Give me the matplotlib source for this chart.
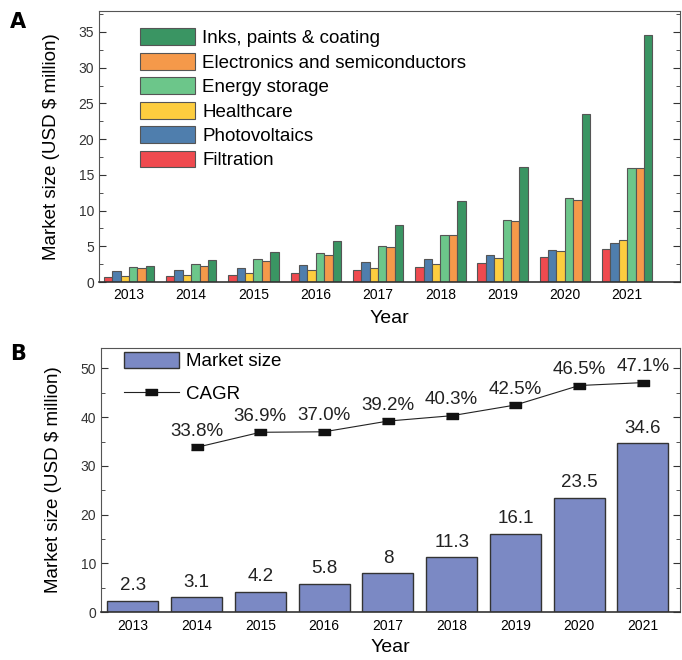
import numpy as np
import matplotlib
matplotlib.use("Agg")
import matplotlib.pyplot as plt
from matplotlib.ticker import MultipleLocator

plt.rcParams['font.family'] = ['Liberation Sans', 'DejaVu Sans']

years = [2013, 2014, 2015, 2016, 2017, 2018, 2019, 2020, 2021]

# panel A: market size by application (USD million)
filtration = [0.72, 0.83, 1.0, 1.33, 1.62, 2.13, 2.68, 3.5, 4.62]
photovoltaics = [1.52, 1.74, 2.0, 2.43, 2.77, 3.19, 3.79, 4.53, 5.41]
healthcare = [0.82, 1.0, 1.28, 1.65, 2.03, 2.5, 3.33, 4.3, 5.83]
energy = [2.05, 2.57, 3.2, 4.04, 5.08, 6.61, 8.74, 11.7, 15.9]
electronics = [1.92, 2.29, 2.9, 3.8, 4.95, 6.52, 8.6, 11.51, 15.9]
inks = [2.3, 3.1, 4.2, 5.8, 8.0, 11.3, 16.1, 23.5, 34.6]

series_names = ['Filtration', 'Photovoltaics', 'Healthcare', 'Energy storage',
                'Electronics and semiconductors', 'Inks, paints & coating']
series_colors = ['#EF4A4F', '#4F7EAD', '#FDCD3F', '#6CC68A', '#F5994A', '#3A9563']

# panel B: total market and CAGR
total = [2.3, 3.1, 4.2, 5.8, 8, 11.3, 16.1, 23.5, 34.6]
total_labels = ['2.3', '3.1', '4.2', '5.8', '8', '11.3', '16.1', '23.5', '34.6']
cagr_years = years[1:]
cagr = [33.8, 36.9, 37.0, 39.2, 40.3, 42.5, 46.5, 47.1]

fig = plt.figure(figsize=(6.82, 6.6), dpi=100)

# ---- A ----
ax1 = fig.add_axes([0.1452, 0.5727, 0.852, 0.4103])
data = [filtration, photovoltaics, healthcare, energy, electronics, inks]
w = 0.135
x = np.array(years, dtype=float)
for i, (vals, col, name) in enumerate(zip(data, series_colors, series_names)):
    ax1.bar(x + (i - 2.5) * w, vals, width=w, color=col, edgecolor='#555555',
            linewidth=0.8, label=name)
ax1.set_xlim(2012.52, 2021.85)
ax1.set_ylim(0, 37.9)
ax1.yaxis.set_major_locator(MultipleLocator(5))
ax1.yaxis.set_minor_locator(MultipleLocator(2.5))
ax1.set_xticks(years)
ax1.tick_params(axis='x', length=0, labelsize=10, pad=4)
ax1.tick_params(axis='y', which='both', direction='in', right=True, labelsize=10, colors='#333333')
ax1.tick_params(axis='y', which='major', length=5)
ax1.tick_params(axis='y', which='minor', length=3)
ax1.set_ylabel('Market size (USD $ million)', fontsize=13.5, labelpad=13)
ax1.set_xlabel('Year', fontsize=14, labelpad=6)
for s in ax1.spines.values():
    s.set_color('#555555')
ax1.spines['bottom'].set_color('#333333')
ax1.spines['bottom'].set_linewidth(1.2)
h, l = ax1.get_legend_handles_labels()
ax1.legend(h[::-1], l[::-1], loc='upper left', bbox_to_anchor=(0.052, 0.978), frameon=False,
           fontsize=13.5, handlelength=2.9, handleheight=1.0, labelspacing=0.3, handletextpad=0.4,
           borderaxespad=0.2)
fig.text(0.015, 0.958, 'A', fontsize=15, fontweight='heavy', family='DejaVu Sans')

# ---- B ----
ax2 = fig.add_axes([0.148, 0.0727, 0.849, 0.4])
bar_h = ax2.bar(years, total, width=0.8, color='#7B89C4', edgecolor='#333333', linewidth=1.0,
                label='Market size')
for xx, v, t in zip(years, total, total_labels):
    ax2.text(xx, v + 1.3, t, ha='center', va='bottom', fontsize=13.5, color='#222222')
rect = [(-1, -0.6), (1, -0.6), (1, 0.6), (-1, 0.6)]
line_h, = ax2.plot(cagr_years, cagr, color='#222222', linewidth=0.8, marker=rect, markersize=8,
                   markerfacecolor='#111111', markeredgecolor='#111111', label='CAGR')
for xx, v in zip(cagr_years, cagr):
    ax2.text(xx, v + 1.5, '%.1f%%' % v, ha='center', va='bottom', fontsize=13.5, color='#222222')
ax2.set_xlim(2012.5, 2021.58)
ax2.set_ylim(0, 54.2)
ax2.yaxis.set_major_locator(MultipleLocator(10))
ax2.yaxis.set_minor_locator(MultipleLocator(5))
ax2.set_xticks(years)
ax2.tick_params(axis='x', length=0, labelsize=10, pad=5)
ax2.tick_params(axis='y', which='both', direction='in', right=True, labelsize=10, colors='#333333')
ax2.tick_params(axis='y', which='major', length=5)
ax2.tick_params(axis='y', which='minor', length=3)
ax2.set_ylabel('Market size (USD $ million)', fontsize=13.5, labelpad=13)
ax2.set_xlabel('Year', fontsize=14, labelpad=4)
for s in ax2.spines.values():
    s.set_color('#555555')
ax2.spines['bottom'].set_color('#333333')
ax2.spines['bottom'].set_linewidth(1.2)
ax2.legend([bar_h, line_h], ['Market size', 'CAGR'], loc='upper left', bbox_to_anchor=(0.024, 1.02),
           frameon=False, fontsize=13.5, handlelength=2.9, handleheight=0.9, labelspacing=0.75,
           handletextpad=0.4, borderaxespad=0.1)
fig.text(0.015, 0.455, 'B', fontsize=15, fontweight='heavy', family='DejaVu Sans')

fig.savefig('out.png', dpi=100)
